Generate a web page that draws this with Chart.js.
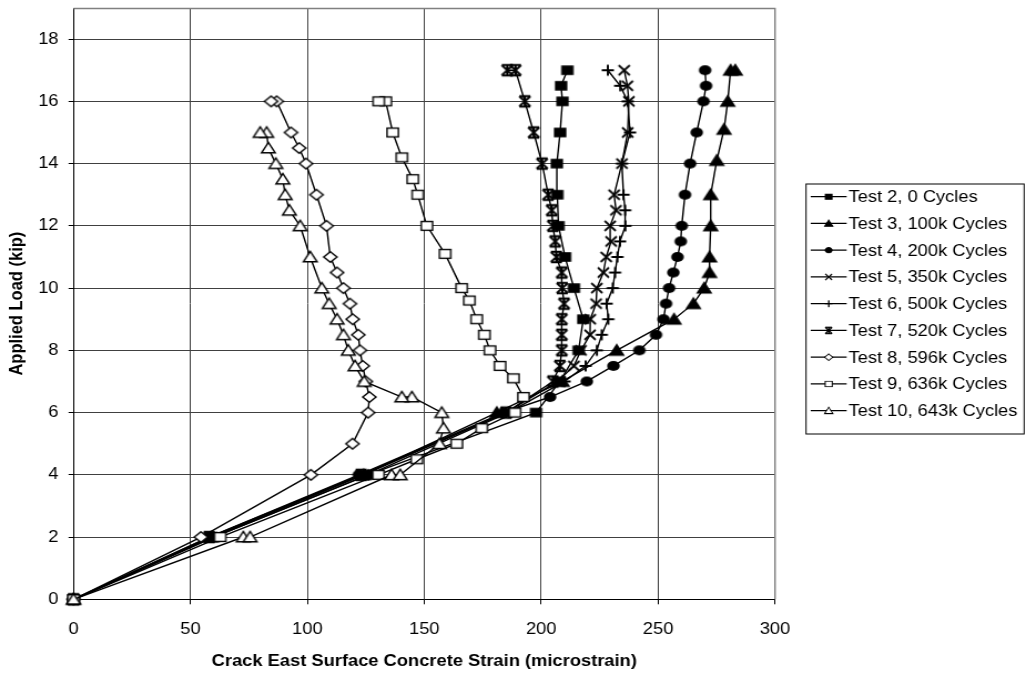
<!DOCTYPE html>
<html>
<head>
<meta charset="utf-8">
<script src="https://cdn.jsdelivr.net/npm/chart.js@4/dist/chart.umd.min.js"></script>
<style>
html,body{margin:0;padding:0;background:#fff;overflow:hidden}
#wrap{width:1026px;height:673px;overflow:hidden}
#c{transform:scaleX(1.10919);transform-origin:0 0;display:block}
</style>
</head>
<body>
<div id="wrap"><canvas id="c" width="925" height="673"></canvas></div>
<script>
// ---------- DATA ----------
const seriesNames = ['Test 2, 0 Cycles','Test 3, 100k Cycles','Test 4, 200k Cycles','Test 5, 350k Cycles','Test 6, 500k Cycles','Test 7, 520k Cycles','Test 8, 596k Cycles','Test 9, 636k Cycles','Test 10, 643k Cycles'];
const xTickValues = [0,50,100,150,200,250,300];
const yTickValues = [0,2,4,6,8,10,12,14,16,18];
const xTitle = 'Crack East Surface Concrete Strain (microstrain)';
const yTitle = 'Applied Load (kip)';

const load2   = [0,2,4,6,7,8,9,10,11,12,13,14,15,16,16.5,17];
const strain2 = [0,60,126,197.8,208,216,218,214,210.2,207.4,206.9,206.7,208.1,209.1,208.5,211.2];

const load3   = [0,2,4,6,7,8,9,9.5,10,10.5,11,12,13,14.1,15.1,16,17,17];
const strain3 = [0,59,124,181,209,232.3,256.8,265.1,269.7,272,272,272.5,272.5,275.1,278.2,279.8,281,283];

const load4   = [0,2,4,6,6.5,7,7.5,8,8.5,9,9.5,10,10.5,11,11.5,12,13,14,15,16,16.5,17];
const strain4 = [0,58,122,184,203.8,219.5,230.9,242,249.1,252.3,253.4,254.7,256.5,258.3,259.7,260.1,261.5,263.7,266.5,269.4,270.5,270.1];

const load5   = [0,2,4,6,7,7.5,8,8.5,9,9.5,10,10.5,11,11.5,12,12.5,13,14,15,16,16.5,17];
const strain5 = [0,59,124,185,207,214,217,220.9,221,223.5,223.8,226.6,227.8,229.9,229.5,232,231.2,234.5,237,237.5,236.9,235.5];

const load6   = [0,2,4,6,7,7.5,8,8.5,9,9.5,10,10.5,11,11.5,12,12.5,13,14,15,16,16.5,17];
const strain6 = [0,60,126,186,210,219,223.8,225.9,228.7,228,230.6,231.6,232.6,233.7,236,235.9,235.2,234.5,238,237,233.8,228.5];

const load7   = [0,2,4,6,7,7.5,8,8.5,9,9.5,10,10.5,11,11.5,12,12.5,13,14,15,16,17,17];
const strain7 = [0,58,123,185,205,208,208.8,208.8,208.8,209.8,209,208.8,206.5,206,205,204.5,203,200.4,196.8,193,189,185.5];

const load8   = [0,2,4,5,6,6.5,7,7.5,8,8.5,9,9.5,10,10.5,11,12,13,14,14.5,15,16,16];
const strain8 = [0,54.5,101.5,119.3,126,126.5,125,123.7,122.5,121.8,119.4,118.2,115.4,112.7,109.8,108.2,103.9,99.4,96.5,93,86.9,84.5];

const load9   = [0,2,4,4.5,5,5.5,6,6.5,7.1,7.5,8,8.5,9,9.6,10,11.1,12,13,13.5,14.2,15,16,16];
const strain9 = [0,62.7,130.4,146.8,163.9,174.6,188.8,192.4,188.1,182.4,178.1,175.7,172.4,169.3,166,158.9,151.1,147.2,145.1,140.4,136.5,133.5,130.5];

const load10   = [0,2,2,4,4,5,5.5,6,6.5,6.5,7,7.5,8,8.5,9,9.5,10,11,12,12.5,13,13.5,14,14.5,15,15];
const strain10 = [0,72.6,75.5,136,139.7,156.5,158.2,157.5,144.7,140.4,124.3,120.4,117.5,115.4,112.7,109.3,106.2,101.2,96.9,92.3,90.5,89.5,86.5,83.3,82.6,79.8];

const loads   = [load2,load3,load4,load5,load6,load7,load8,load9,load10];
const strains = [strain2,strain3,strain4,strain5,strain6,strain7,strain8,strain9,strain10];
const markerKinds = ['sqF','triF','cirF','x','plus','star','diaO','sqO','triO'];

// ---------- MARKERS ----------
function makeMarker(kind){
  const c=document.createElement('canvas');c.width=18;c.height=16;
  const g=c.getContext('2d');const cx=9,cy=8;
  g.strokeStyle='#000';g.fillStyle='#000';g.lineWidth=1.4;
  const tri=()=>{g.beginPath();g.moveTo(cx,cy-5.6);g.lineTo(cx+6.2,cy+4.8);g.lineTo(cx-6.2,cy+4.8);g.closePath();};
  switch(kind){
    case 'sqF': g.fillRect(cx-5.6,cy-4.8,11.2,9.6);break;
    case 'triF': tri();g.fill();g.stroke();break;
    case 'cirF': g.beginPath();g.ellipse(cx,cy,5.7,5.0,0,0,Math.PI*2);g.fill();break;
    case 'x': g.lineWidth=1.8;g.beginPath();g.moveTo(cx-5,cy-5);g.lineTo(cx+5,cy+5);g.moveTo(cx+5,cy-5);g.lineTo(cx-5,cy+5);g.stroke();break;
    case 'plus': g.lineWidth=1.9;g.beginPath();g.moveTo(cx,cy-5.5);g.lineTo(cx,cy+5.5);g.moveTo(cx-5.5,cy);g.lineTo(cx+5.5,cy);g.stroke();break;
    case 'star': g.lineWidth=2;g.beginPath();g.moveTo(cx-5,cy-5);g.lineTo(cx+5,cy+5);g.moveTo(cx+5,cy-5);g.lineTo(cx-5,cy+5);g.moveTo(cx,cy-5.5);g.lineTo(cx,cy+5.5);g.moveTo(cx-5,cy-5.3);g.lineTo(cx+5,cy-5.3);g.moveTo(cx-5,cy+5.3);g.lineTo(cx+5,cy+5.3);g.stroke();break;
    case 'diaO': g.fillStyle='#fff';g.beginPath();g.moveTo(cx,cy-5.2);g.lineTo(cx+6,cy);g.lineTo(cx,cy+5.2);g.lineTo(cx-6,cy);g.closePath();g.fill();g.stroke();break;
    case 'sqO': g.fillStyle='#fff';g.fillRect(cx-5.1,cy-4.4,10.2,8.8);g.strokeRect(cx-5.1,cy-4.4,10.2,8.8);break;
    case 'triO': g.fillStyle='#fff';tri();g.fill();g.stroke();break;
  }
  return c;
}
const markers = markerKinds.map(makeMarker);

// ---------- CHART ----------
const FONT = "'Liberation Sans', Arial, sans-serif";
Chart.defaults.font.family = FONT;
Chart.defaults.font.size = 16.5;
Chart.defaults.color = '#000';

const datasets = seriesNames.map((name,i)=>({
  label:name,
  data: loads[i].map((y,k)=>({x:strains[i][k], y:y})),
  showLine:true,
  borderColor:'#000',
  borderWidth:1.4,
  backgroundColor:'#000',
  pointStyle:markers[i],
  pointRadius:5,
  pointHoverRadius:5,
  clip:false,
  order: 9-i
}));

const plotFrame = {
  id:'plotFrame',
  beforeDatasetsDraw(chart){
    const a=chart.chartArea,ctx=chart.ctx;
    ctx.save();ctx.strokeStyle='#808080';ctx.lineWidth=1.4;
    ctx.beginPath();ctx.moveTo(a.left,a.top+0.5);ctx.lineTo(a.right,a.top+0.5);ctx.lineTo(a.right,a.bottom);ctx.stroke();
    ctx.restore();
  },
  afterDraw(chart){
    const ctx=chart.ctx;
    ctx.save();
    const bx=726.2,by=183.5,bw=197.6,bh=251;
    ctx.fillStyle='#fff';ctx.fillRect(bx,by,bw,bh);
    ctx.strokeStyle='#000';ctx.lineWidth=1;
    ctx.strokeRect(bx+0.5,by+0.5,bw-1,bh-1);
    ctx.font='16.5px '+FONT;ctx.textBaseline='middle';ctx.textAlign='left';ctx.fillStyle='#000';
    seriesNames.forEach((n,i)=>{
      const y=196.7+i*26.75;
      ctx.strokeStyle='#000';ctx.lineWidth=1.3;
      ctx.beginPath();ctx.moveTo(730.9,y);ctx.lineTo(763.3,y);ctx.stroke();
      const m=markers[i];const w=m.width*0.62,h=m.height*0.62;
      ctx.drawImage(m,747.1-w/2,y-h/2,w,h);
      ctx.fillStyle='#000';
      ctx.fillText(n,765,y+1);
    });
    ctx.restore();
  }
};

function noOverhang(s){s.paddingTop=0;s.paddingBottom=0;s.paddingLeft=0;s.paddingRight=0;}

new Chart(document.getElementById('c'),{
  type:'scatter',
  data:{datasets},
  plugins:[plotFrame],
  options:{
    responsive:false,
    animation:false,
    events:[],
    layout:{padding:{left:0,right:226.3,top:8,bottom:0}},
    plugins:{legend:{display:false},tooltip:{enabled:false}},
    scales:{
      x:{
        type:'linear',min:0,max:300,
        afterBuildTicks:(s)=>{s.ticks=xTickValues.map(v=>({value:v}));},
        afterFit:(s)=>{s.height=73.7;noOverhang(s);},
        grid:{color:'#404040',lineWidth:1,tickLength:5,tickColor:'#000',drawTicks:true},
        border:{color:'#000',width:1},
        ticks:{padding:15,font:{size:16.5},color:'#000'},
        title:{display:true,text:xTitle,font:{size:16.5,weight:'bold'},color:'#000',padding:{top:0,bottom:2}}
      },
      y:{
        type:'linear',min:0,max:19,
        afterBuildTicks:(s)=>{s.ticks=yTickValues.map(v=>({value:v}));},
        afterFit:(s)=>{s.width=66.3;noOverhang(s);},
        grid:{color:'#404040',lineWidth:1,tickLength:4.5,tickColor:'#000',drawTicks:true},
        border:{color:'#000',width:1},
        ticks:{padding:9,font:{size:16.5},color:'#000'},
        title:{display:true,text:yTitle,font:{size:16.5,weight:'bold'},color:'#000',padding:{top:6,bottom:0}}
      }
    }
  }
});
</script>
</body>
</html>
